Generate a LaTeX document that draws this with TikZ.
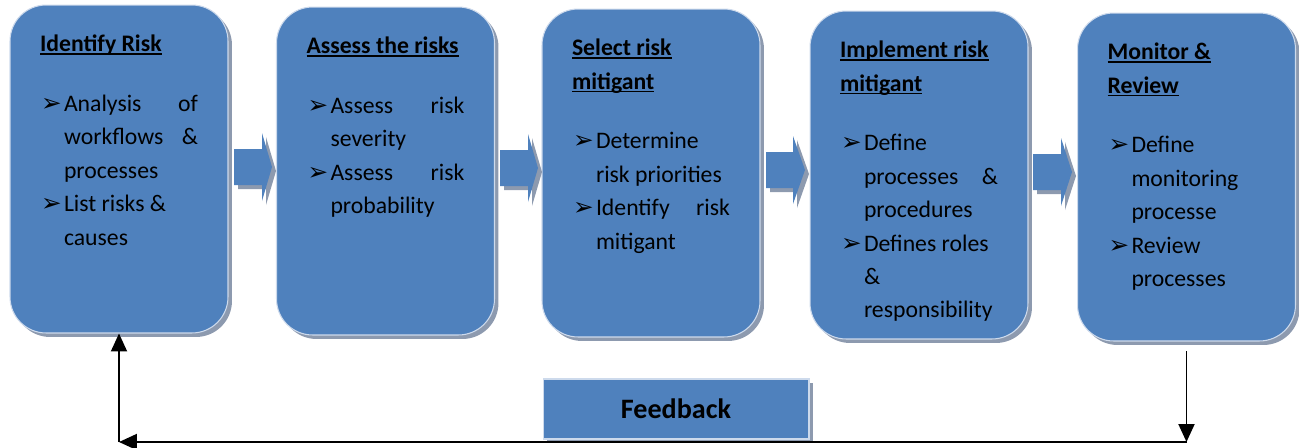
\documentclass[tikz,border=0pt]{standalone}
\usepackage{fontspec}
\setmainfont{Carlito}
\newfontfamily\bulletfont{DejaVu Sans}
\usetikzlibrary{arrows.meta,shadows}
\definecolor{boxblue}{RGB}{79,129,189}
\definecolor{shadowgray}{RGB}{141,154,175}
\definecolor{edgeblue}{RGB}{205,218,236}

% underline that runs just under the baseline
\newcommand{\stageul}[1]{\setbox0\hbox{#1}\rlap{\rule[-1.8pt]{\wd0}{0.9pt}}\box0}
% one bullet with hanging lines
\newcommand{\riskpt}[1]{\par\noindent\hangindent=0.48cm\hangafter=1%
  \makebox[0.48cm][l]{\hspace{0.02cm}{\bulletfont\fontsize{14}{14}\selectfont ➢}}#1}
% text of one stage box
\newcommand{\stagetext}[2]{%
  \begin{minipage}[c][6.56cm][t]{3.16cm}
  \fontsize{13.5}{19}\selectfont\hbadness=10000
  \vspace*{16.6pt}
  \noindent\rule{0pt}{10pt}\textbf{#1}\par\vspace{15pt}
  #2
  \end{minipage}}

\begin{document}
\begin{tikzpicture}[x=0.02cm,y=-0.02cm,
	stage/.style={draw=edgeblue,line width=0.6pt,fill=boxblue,rounded corners=0.72cm,
		minimum width=4.36cm,minimum height=6.56cm,inner sep=0pt,
		drop shadow={shadow xshift=0.08cm,shadow yshift=-0.08cm,fill=shadowgray,opacity=1}},
	flow/.style={fill=boxblue,
		drop shadow={shadow xshift=0.08cm,shadow yshift=-0.08cm,fill=shadowgray,opacity=1}},
	fbbox/.style={draw=edgeblue,line width=0.6pt,fill=boxblue,
		minimum width=5.32cm,minimum height=1.2cm,inner sep=0pt,
		font=\fontsize{16}{16}\selectfont\bfseries,
		drop shadow={shadow xshift=0.08cm,shadow yshift=-0.08cm,fill=shadowgray,opacity=1}},
	fbline/.style={line width=1.1pt,-{Triangle[length=0.36cm,width=0.32cm]}}]
	\useasboundingbox (0,0) rectangle (1299,447);
	
	% stages
	\node[stage] (b1) at (119,169) {\stagetext{\stageul{Identify Risk}}{%
		\riskpt{Analysis\hfill of\\workflows\hfill\&\\processes}
		\riskpt{List risks \&\\causes}}};
	\node[stage] (b2) at (385.5,171) {\stagetext{\stageul{Assess the risks}}{%
		\riskpt{Assess\hfill risk\\severity}
		\riskpt{Assess\hfill risk\\probability}}};
	\node[stage] (b3) at (651,173) {\stagetext{\stageul{Select risk}\\\stageul{mitigant}}{%
		\riskpt{Determine\\risk priorities}
		\riskpt{Identify\hfill risk\\mitigant}}};
	\node[stage] (b4) at (919,175) {\stagetext{\stageul{Implement risk}\\\stageul{mitigant}}{%
		\riskpt{Define\\processes\hfill\&\\procedures}
		\riskpt{Defines roles\\\&\\responsibility}}};
	\node[stage] (b5) at (1186.5,177) {\stagetext{\stageul{Monitor \&}\\\stageul{Review}}{%
		\riskpt{Define\\monitoring\\processe}
		\riskpt{Review\\processes}}};
	
	% block arrows
	\path[flow,shift={(234,167)}] (0,-18) -- (28,-18) -- (28,-34) -- (38,0)
		-- (28,34) -- (28,18) -- (0,18) -- cycle;
	\path[flow,shift={(500,168)}] (0,-18) -- (28,-18) -- (28,-34) -- (38,0)
		-- (28,34) -- (28,18) -- (0,18) -- cycle;
	\path[flow,shift={(766,170)}] (0,-18) -- (27,-18) -- (27,-34) -- (39,0)
		-- (27,34) -- (27,18) -- (0,18) -- cycle;
	\path[flow,shift={(1033,172)}] (0,-18) -- (28,-18) -- (28,-34) -- (39,0)
		-- (28,34) -- (28,18) -- (0,18) -- cycle;
	
	% feedback
	\node[fbbox] (fb) at (676,409) {Feedback};
	\coordinate (fbL) at (119,442);
	\coordinate (fbR) at (b5.south |- fbL);
	\draw[fbline] ([yshift=-0.2cm]b5.south) -- (fbR);
	\draw[fbline] (fbR) -- (fbL);
	\draw[fbline] (fbL) -- (b1.south);
	
\end{tikzpicture}
\end{document}
